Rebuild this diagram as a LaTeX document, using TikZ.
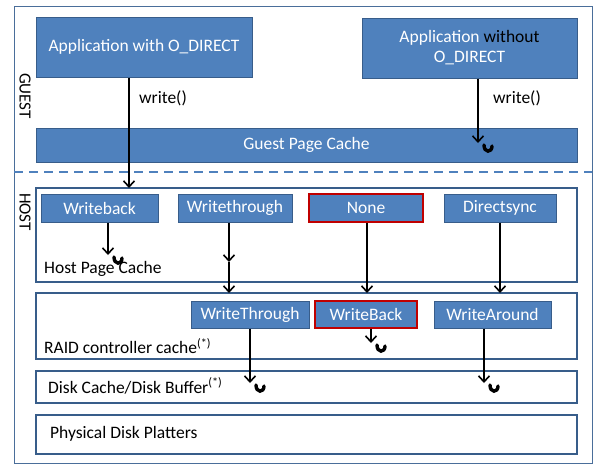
\documentclass[tikz,border=0pt]{standalone}
\usepackage{fontspec}
\setmainfont{Carlito}
\usetikzlibrary{arrows.meta}
\definecolor{boxblue}{HTML}{4F81BD}
\definecolor{boxedge}{HTML}{385D8A}
\definecolor{boxred}{HTML}{C00000}
\definecolor{frameblue}{HTML}{4A6E9A}
\tikzset{
  bluebox/.style={rectangle, fill=boxblue, draw=boxedge, line width=1pt, text=white, inner sep=0pt, font=\fontsize{17.5}{20}\selectfont},
  redbox/.style={bluebox, draw=boxred, line width=1.5pt},
  layerbox/.style={rectangle, fill=white, draw=boxedge, line width=1.3pt, inner sep=0pt},
  lbl/.style={inner sep=0pt, anchor=west, font=\fontsize{17.5}{20}\selectfont},
  arr/.style={draw=black, line width=1.8pt, -{Straight Barb[length=6pt,width=11pt,line width=1.6pt]}},
  uturn/.style={draw=black, line width=3.4pt, line cap=round},
}
\newcommand{\umark}[1]{\draw[uturn] ([shift={(6,2)}]#1) .. controls ([shift={(6,10)}]#1) and ([shift={(14,10)}]#1) .. ([shift={(14,3)}]#1);}
\begin{document}
\begin{tikzpicture}[x=1pt, y=-1pt]
\useasboundingbox (0,0) rectangle (594,464);
% outer frame
\draw[draw=frameblue, line width=1pt] (14,6) rectangle (592,463);
% labels
\node[rotate=-90, inner sep=0pt, font=\fontsize{17}{20}\selectfont] (guest) at (25,96) {GUEST};
\node[rotate=-90, inner sep=0pt, font=\fontsize{17}{20}\selectfont] (hostlbl) at (25,212) {HOST};
% guest
\node[bluebox, minimum width=216pt, minimum height=60pt] (app1) at (144,47) {Application with O\_DIRECT};
\node[bluebox, minimum width=215pt, minimum height=60pt, align=center] (app2) at (469.5,48) {Application \textcolor{black}{without}\\O\_DIRECT};
\node[bluebox, minimum width=541pt, minimum height=34pt] (gpc) at (306.5,145) {Guest Page Cache};
\draw[draw=boxblue, line width=1.5pt, dash pattern=on 9pt off 6pt] (14,172) -- (592,172);
% host
\node[layerbox, minimum width=541pt, minimum height=94pt] (host) at (306.5,235) {};
\node[lbl] (hpc) at (44,269) {Host Page Cache};
\node[bluebox, minimum width=117pt, minimum height=28pt] (wb) at (99.5,208) {Writeback};
\node[bluebox, minimum width=114pt, minimum height=28pt] (wt) at (235,208) {Writethrough};
\node[redbox, minimum width=114pt, minimum height=28pt] (none) at (366,208) {None};
\node[bluebox, minimum width=112pt, minimum height=28pt] (ds) at (500,208) {Directsync};
% raid
\node[layerbox, minimum width=541pt, minimum height=66pt] (raid) at (306.5,326) {};
\node[lbl] (rcc) at (44,346) {RAID controller cache\textsuperscript{(*)}};
\node[bluebox, minimum width=118pt, minimum height=27pt] (wT) at (250,314.5) {WriteThrough};
\node[redbox, minimum width=102pt, minimum height=27pt] (wB) at (366,314.5) {WriteBack};
\node[bluebox, minimum width=117pt, minimum height=27pt] (wA) at (492.5,314.5) {WriteAround};
% disk
\node[layerbox, minimum width=541pt, minimum height=32pt] (disk) at (306.5,387) {};
\node[lbl] (dcl) at (48,386) {Disk Cache/Disk Buffer\textsuperscript{(*)}};
\node[layerbox, minimum width=541pt, minimum height=39pt] (plat) at (306.5,434.5) {};
\node[lbl] (pdl) at (50,434) {Physical Disk Platters};
% arrow ends
\coordinate (a1) at (129,188);
\coordinate (a2) at (478,143);
\coordinate (a3) at (108,255);
\coordinate (a4) at (229,262);
\coordinate (a5) at (229,293);
\coordinate (a6) at (367,293);
\coordinate (a7) at (500,293);
\coordinate (a8) at (250,383);
\coordinate (a9) at (371,343);
\coordinate (a10) at (484,383);
% write labels
\node[lbl] (w1) at (139,98) {write()};
\node[lbl] (w2) at (493,98) {write()};
% arrows
\draw[arr] (a1 |- app1.south) -- (a1);
\draw[arr] (a2 |- app2.south) -- (a2);
\draw[arr] (a3 |- wb.south) -- (a3);
\draw[arr] (a4 |- wt.south) -- (a4);
\draw[arr] (a4) -- (a5);
\draw[arr] (a6 |- none.south) -- (a6);
\draw[arr] (a7 |- ds.south) -- (a7);
\draw[arr] (a8 |- wT.south) -- (a8);
\draw[arr] (a9 |- wB.south) -- (a9);
\draw[arr] (a10 |- wA.south) -- (a10);
% u-turn marks
\umark{a2}
\umark{a3}
\umark{a8}
\umark{a9}
\umark{a10}
\end{tikzpicture}
\end{document}
